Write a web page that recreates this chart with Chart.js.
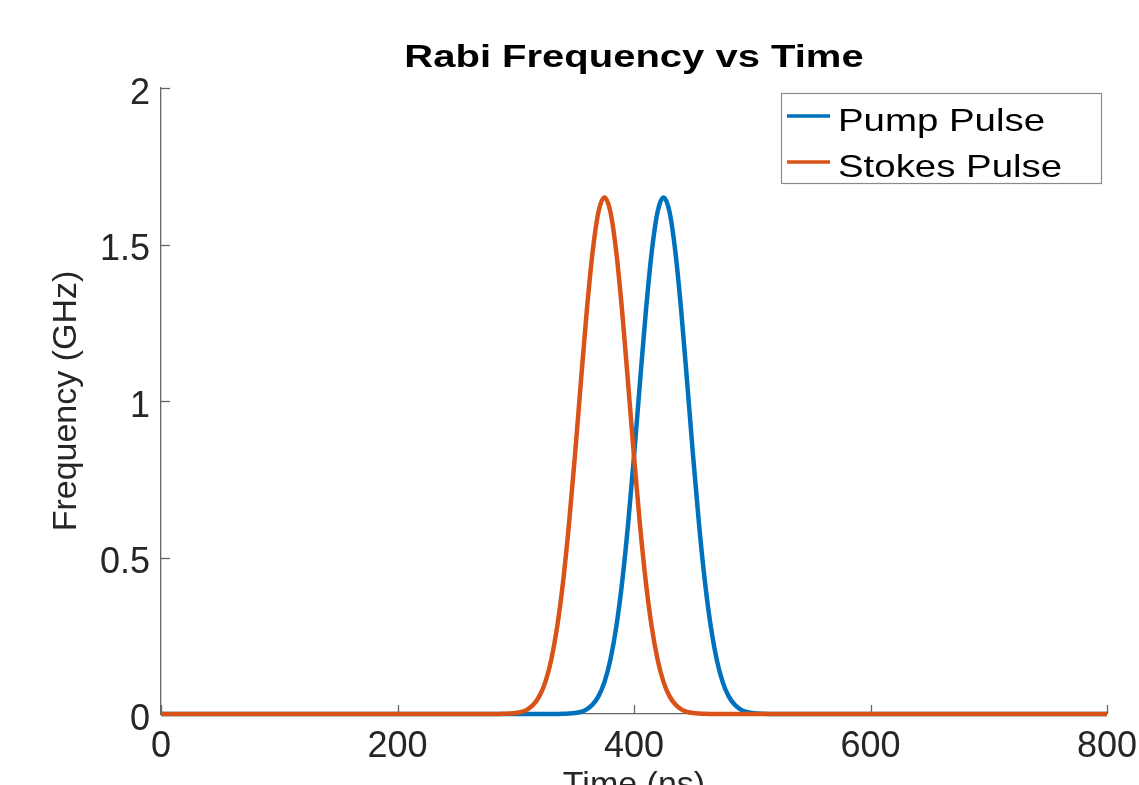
<!DOCTYPE html>
<html>
<head>
<meta charset="utf-8">
<script src="https://cdn.jsdelivr.net/npm/chart.js@4.4.1/dist/chart.umd.min.js"></script>
<style>
  html, body { margin: 0; padding: 0; background: #fff; overflow: hidden; }
  #wrap { width: 1139px; height: 810px; position: relative; }
</style>
</head>
<body>
<div id="wrap"><canvas id="c"></canvas></div>
<script>
// ---- data ----
const chartTitle = 'Rabi Frequency vs Time';
const xTitle = 'Time (ns)';
const yTitle = 'Frequency (GHz)';
const seriesNames = ['Pump Pulse', 'Stokes Pulse'];
const xTickValues = [0, 200, 400, 600, 800];
const yTickValues = [0, 0.5, 1, 1.5, 2];

const times = [0,
  280, 285, 290, 295, 300, 305, 310, 315, 320, 325,
  330, 335, 340, 345, 350, 355, 360, 365, 370, 375,
  380, 385, 390, 395, 400, 405, 410, 415, 420, 425,
  430, 435, 440, 445, 450, 455, 460, 465, 470, 475,
  480, 485, 490, 495, 500, 505, 510, 515, 520,
  800];

const pumpValues = [0,
  0, 0, 0, 0, 0, 0, 0, 0, 0, 0,
  0, 0.0002, 0.0005, 0.0013, 0.003, 0.007, 0.015, 0.030, 0.057, 0.102,
  0.173, 0.278, 0.422, 0.606, 0.823, 1.057, 1.285, 1.476, 1.605, 1.65,
  1.605, 1.476, 1.285, 1.057, 0.823, 0.606, 0.422, 0.278, 0.173, 0.102,
  0.057, 0.030, 0.015, 0.007, 0.003, 0.0013, 0.0005, 0.0002, 0,
  0];

const stokesValues = [0,
  0, 0.0002, 0.0005, 0.0013, 0.003, 0.007, 0.015, 0.030, 0.057, 0.102,
  0.173, 0.278, 0.422, 0.606, 0.823, 1.057, 1.285, 1.476, 1.605, 1.65,
  1.605, 1.476, 1.285, 1.057, 0.823, 0.606, 0.422, 0.278, 0.173, 0.102,
  0.057, 0.030, 0.015, 0.007, 0.003, 0.0013, 0.0005, 0.0002, 0, 0,
  0, 0, 0, 0, 0, 0, 0, 0, 0,
  0];

const seriesColors = ['#0072BD', '#D95319'];
// ----------------------------------------------

const FONT = "'Liberation Sans', Arial, Helvetica, sans-serif";
Chart.defaults.font.family = FONT;

const toPoints = vals => times.map((t, i) => ({ x: t, y: vals[i] }));

const titlePlugin = {
  id: 'matlabTitle',
  afterDraw(chart) {
    const { ctx, chartArea } = chart;
    const cx = (chartArea.left + chartArea.right) / 2;
    ctx.save();
    ctx.translate(cx, 67);
    ctx.scale(1.29, 1);
    ctx.font = 'bold 31px ' + FONT;
    ctx.fillStyle = '#000';
    ctx.textAlign = 'center';
    ctx.textBaseline = 'alphabetic';
    ctx.fillText(chartTitle, 0, 0);
    ctx.restore();
  }
};

const inwardTicks = {
  id: 'inwardTicks',
  beforeDatasetsDraw(chart) {
    const { ctx, chartArea, scales } = chart;
    ctx.save();
    ctx.strokeStyle = '#666';
    ctx.lineWidth = 1.3;
    scales.x.ticks.forEach(t => {
      const px = Math.round(scales.x.getPixelForValue(t.value)) + 0.5;
      ctx.beginPath();
      ctx.moveTo(px, chartArea.bottom);
      ctx.lineTo(px, chartArea.bottom - 9);
      ctx.stroke();
    });
    scales.y.ticks.forEach(t => {
      const py = Math.round(scales.y.getPixelForValue(t.value)) + 0.5;
      ctx.beginPath();
      ctx.moveTo(chartArea.left, py);
      ctx.lineTo(chartArea.left + 9, py);
      ctx.stroke();
    });
    ctx.restore();
  }
};

const legendBox = {
  id: 'legendBox',
  afterDraw(chart) {
    const { ctx, chartArea } = chart;
    const w = 320, h = 90;
    const x0 = chartArea.right - 326, y0 = chartArea.top + 5;
    ctx.save();
    ctx.fillStyle = '#fff';
    ctx.fillRect(x0, y0, w, h);
    ctx.strokeStyle = '#8a8a8a';
    ctx.lineWidth = 1.2;
    ctx.strokeRect(x0 + 0.5, y0 + 0.5, w, h);
    chart.data.datasets.forEach((ds, i) => {
      const cy = y0 + 23 + i * 46;
      ctx.strokeStyle = ds.borderColor;
      ctx.lineWidth = 3.5;
      ctx.beginPath();
      ctx.moveTo(x0 + 6, cy);
      ctx.lineTo(x0 + 49, cy);
      ctx.stroke();
      ctx.save();
      ctx.translate(x0 + 57, cy + 15);
      ctx.scale(1.2, 1);
      ctx.font = '32px ' + FONT;
      ctx.fillStyle = '#000';
      ctx.textAlign = 'left';
      ctx.textBaseline = 'alphabetic';
      ctx.fillText(ds.label, 0, 0);
      ctx.restore();
    });
    ctx.restore();
  }
};

new Chart(document.getElementById('c'), {
  type: 'line',
  data: {
    datasets: [
      {
        label: seriesNames[0],
        data: toPoints(pumpValues),
        borderColor: seriesColors[0],
        backgroundColor: seriesColors[0],
        borderWidth: 4.5,
        pointRadius: 0,
        cubicInterpolationMode: 'monotone',
        fill: false,
        clip: 6,
        order: 1
      },
      {
        label: seriesNames[1],
        data: toPoints(stokesValues),
        borderColor: seriesColors[1],
        backgroundColor: seriesColors[1],
        borderWidth: 4.5,
        pointRadius: 0,
        cubicInterpolationMode: 'monotone',
        fill: false,
        clip: 6,
        order: 0
      }
    ]
  },
  options: {
    responsive: true,
    maintainAspectRatio: false,
    animation: false,
    events: [],
    layout: { padding: { top: 88, right: 32, bottom: 0, left: 0 } },
    plugins: {
      legend: { display: false },
      title: { display: false },
      tooltip: { enabled: false }
    },
    scales: {
      x: {
        type: 'linear',
        min: 0,
        max: 800,
        afterBuildTicks: s => { s.ticks = xTickValues.map(v => ({ value: v })); },
        afterFit: s => { s.height = 96; s.paddingLeft = 0; s.paddingRight = 0; },
        grid: { display: false, drawTicks: false },
        border: { display: true, color: '#666', width: 1.3 },
        ticks: {
          font: { size: 36 },
          color: '#262626',
          padding: 11,
          maxRotation: 0,
          autoSkip: false,
          callback: v => String(v)
        },
        title: {
          display: true,
          text: xTitle,
          font: { size: 34 },
          color: '#262626',
          padding: { top: 0, bottom: 4 }
        }
      },
      y: {
        type: 'linear',
        min: 0,
        max: 2,
        afterBuildTicks: s => { s.ticks = yTickValues.map(v => ({ value: v })); },
        afterFit: s => { s.width = 161; s.paddingTop = 0; s.paddingBottom = 0; },
        grid: { display: false, drawTicks: false },
        border: { display: true, color: '#666', width: 1.3 },
        ticks: {
          font: { size: 36 },
          color: '#262626',
          padding: 11,
          labelOffset: 6,
          autoSkip: false,
          callback: v => String(v)
        },
        title: {
          display: true,
          text: yTitle,
          font: { size: 34 },
          color: '#262626',
          padding: { top: 46, bottom: 0 }
        }
      }
    }
  },
  plugins: [inwardTicks, titlePlugin, legendBox]
});
</script>
</body>
</html>
